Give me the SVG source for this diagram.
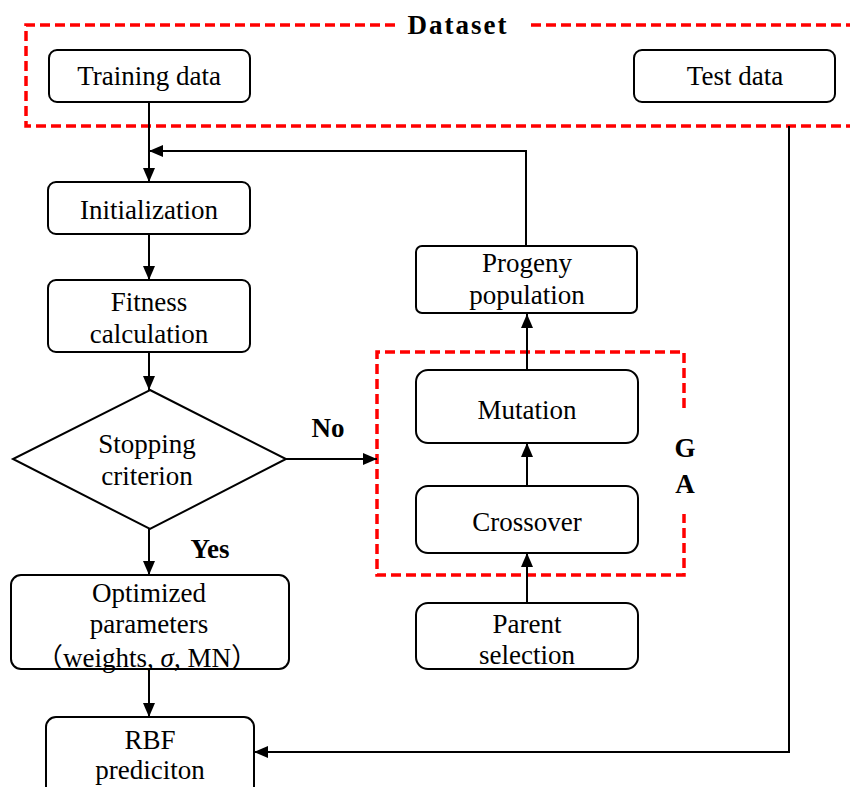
<svg xmlns="http://www.w3.org/2000/svg" width="850" height="787" viewBox="0 0 850 787">
<style>
.box{fill:#fff;stroke:#000;stroke-width:2}
.ln{fill:none;stroke:#000;stroke-width:2}
.dash{fill:none;stroke:#f00;stroke-width:3.5;stroke-dasharray:10 5}
.t{font-family:'Liberation Serif','Times New Roman',Times,serif;font-size:27px;text-anchor:middle;fill:#000}
.b{font-family:'Liberation Serif','Times New Roman',Times,serif;font-size:27px;font-weight:bold;text-anchor:middle;fill:#000}
.cjk{font-family:'Noto Sans CJK SC',sans-serif}
</style>
<defs>
<marker id="arr" markerWidth="14" markerHeight="12" refX="14" refY="6" orient="auto" markerUnits="userSpaceOnUse">
<path d="M0,0 L14,6 L0,12 Z" fill="#000"/>
</marker>
</defs>
<rect width="850" height="787" fill="#fff"/>
<g id="dataset">
<path class="dash" d="M395,25 H26 V126 H852 M531,25 H852"/>
<text class="b" x="458" y="34" letter-spacing="2">Dataset</text>
</g>
<g id="ga">
<path class="dash" d="M684,408 V352 H377 V575 H684 V514"/>
<text class="b" x="685" y="457">G</text>
<text class="b" x="685" y="493">A</text>
</g>
<g id="connectors">
<path class="ln" d="M149,102 V182" marker-end="url(#arr)"/>
<path class="ln" d="M526,246 V151 H149" marker-end="url(#arr)"/>
<path class="ln" d="M149,234 V280" marker-end="url(#arr)"/>
<path class="ln" d="M149,352 V390" marker-end="url(#arr)"/>
<path class="ln" d="M149,529 V575" marker-end="url(#arr)"/>
<path class="ln" d="M149,669 V717" marker-end="url(#arr)"/>
<path class="ln" d="M286,459 H377" marker-end="url(#arr)"/>
<path class="ln" d="M527,370 V314" marker-end="url(#arr)"/>
<path class="ln" d="M527,486 V443" marker-end="url(#arr)"/>
<path class="ln" d="M527,603 V553" marker-end="url(#arr)"/>
<path class="ln" d="M789,126 V752 H254" marker-end="url(#arr)"/>
<text class="b" x="328" y="437">No</text>
<text class="b" x="210" y="558">Yes</text>
</g>
<g id="training">
<rect class="box" x="49" y="50" width="201" height="52" rx="8"/>
<text class="t" x="149" y="85">Training data</text>
</g>
<g id="test">
<rect class="box" x="634" y="50" width="201" height="52" rx="8"/>
<text class="t" x="735" y="85">Test data</text>
</g>
<g id="init">
<rect class="box" x="48" y="182" width="202" height="52" rx="8"/>
<text class="t" x="149" y="219">Initialization</text>
</g>
<g id="fitness">
<rect class="box" x="48" y="280" width="202" height="72" rx="8"/>
<text class="t" x="149" y="311">Fitness</text>
<text class="t" x="149" y="343">calculation</text>
</g>
<g id="stop">
<path class="box" d="M150,390 L286,459 L150,529 L13,459 Z"/>
<text class="t" x="147" y="453">Stopping</text>
<text class="t" x="147" y="485">criterion</text>
</g>
<g id="optimized">
<rect class="box" x="11" y="575" width="278" height="94" rx="10"/>
<text class="t" x="149" y="602">Optimized</text>
<text class="t" x="149" y="633">parameters</text>
<text class="t" x="147" y="667"><tspan class="cjk">（</tspan>weights, <tspan font-style="italic">σ</tspan>, MN<tspan class="cjk">）</tspan></text>
</g>
<g id="rbf">
<rect class="box" x="46" y="717" width="208" height="80" rx="10"/>
<text class="t" x="150" y="749">RBF</text>
<text class="t" x="150" y="779">prediciton</text>
</g>
<g id="progeny">
<rect class="box" x="416" y="246" width="221" height="67" rx="6"/>
<text class="t" x="527" y="272">Progeny</text>
<text class="t" x="527" y="304">population</text>
</g>
<g id="mutation">
<rect class="box" x="416" y="370" width="222" height="73" rx="12"/>
<text class="t" x="527" y="419">Mutation</text>
</g>
<g id="crossover">
<rect class="box" x="416" y="486" width="222" height="67" rx="12"/>
<text class="t" x="527" y="531">Crossover</text>
</g>
<g id="parent">
<rect class="box" x="416" y="603" width="222" height="66" rx="12"/>
<text class="t" x="527" y="633">Parent</text>
<text class="t" x="527" y="664">selection</text>
</g>
</svg>
